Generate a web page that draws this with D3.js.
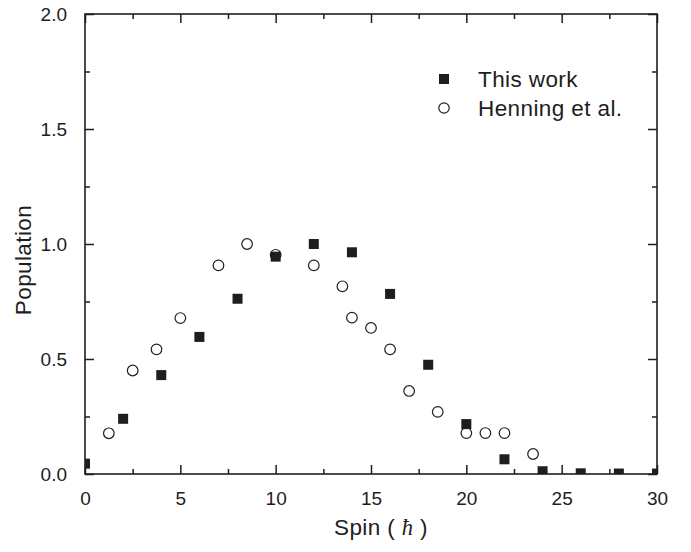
<!DOCTYPE html>
<html>
<head>
<meta charset="utf-8">
<script src="https://cdn.jsdelivr.net/npm/d3@7"></script>
<style>
  body { margin: 0; background: #fff; }
  svg text { font-family: "Liberation Sans", Arial, sans-serif; fill: #1e1e1e; }
</style>
</head>
<body>
<div id="chart"></div>
<script>
// data
const thisWorkSpin = [0, 2, 4, 6, 8, 10, 12, 14, 16, 18, 20, 22, 24, 26, 28, 30];
const thisWorkPop  = [0.045, 0.24, 0.43, 0.596, 0.762, 0.945, 1.0, 0.964, 0.783, 0.475, 0.217, 0.064, 0.012, 0.003, 0.002, 0.002];

const henningSpin = [1.25, 2.5, 3.75, 5, 7, 8.5, 10, 12, 13.5, 14, 15, 16, 17, 18.5, 20, 21, 22, 23.5];
const henningPop  = [0.177, 0.45, 0.542, 0.678, 0.907, 1.0, 0.953, 0.907, 0.816, 0.68, 0.635, 0.542, 0.361, 0.27, 0.178, 0.178, 0.178, 0.087];

const xMajor = [0, 5, 10, 15, 20, 25, 30];
const xMinor = [2.5, 7.5, 12.5, 17.5, 22.5, 27.5];
const yMajor = [0, 0.5, 1.0, 1.5, 2.0];
const yMinor = [0.25, 0.75, 1.25, 1.75];

const legendItems = [
  { label: 'This work', kind: 'square' },
  { label: 'Henning et al.', kind: 'circle' }
];

const W = 691, H = 552;
const margin = { top: 14, right: 34, bottom: 78, left: 85 };
const ink = '#1e1e1e';

const svg = d3.select('#chart').append('svg')
  .attr('width', W).attr('height', H);

const x = d3.scaleLinear().domain([0, 30]).range([margin.left, W - margin.right]);
const y = d3.scaleLinear().domain([0, 2]).range([H - margin.bottom, margin.top]);

svg.append('clipPath').attr('id', 'plot-clip')
  .append('rect')
  .attr('x', x(0)).attr('y', y(2))
  .attr('width', x(30) - x(0)).attr('height', y(0) - y(2));

// ── axes: ticks point inward on all four sides ──────────────
function drawAxis(axisFn, pos, majors, minors, fmt, withLabels) {
  const g = svg.append('g').attr('transform', pos);
  g.call(axisFn.tickValues(majors).tickSizeInner(-9).tickSizeOuter(0)
    .tickPadding(withLabels ? 18 : 0).tickFormat(withLabels ? fmt : ''));
  g.append('g').call(axisFn.tickValues(minors).tickSizeInner(-5).tickFormat(''));
  g.selectAll('.domain').remove();
  g.selectAll('line').attr('stroke', ink).attr('stroke-width', 1.5);
  g.selectAll('text').attr('font-size', 19).attr('fill', ink)
    .attr('font-family', '"Liberation Sans", Arial, sans-serif');
  return g;
}

const fmtY = d3.format('.1f');
drawAxis(d3.axisBottom(x), `translate(0,${y(0)})`, xMajor, xMinor, d3.format('d'), true);
drawAxis(d3.axisTop(x), `translate(0,${y(2)})`, xMajor, xMinor, null, false);
drawAxis(d3.axisLeft(y), `translate(${x(0)},0)`, yMajor, yMinor, fmtY, true);
drawAxis(d3.axisRight(y), `translate(${x(30)},0)`, yMajor, yMinor, null, false);

svg.append('rect')
  .attr('x', x(0)).attr('y', y(2))
  .attr('width', x(30) - x(0)).attr('height', y(0) - y(2))
  .attr('fill', 'none').attr('stroke', ink).attr('stroke-width', 1.6);

// ── markers ────────────────────────────────────────────────
const plot = svg.append('g').attr('clip-path', 'url(#plot-clip)');
const sq = 10;

plot.selectAll('rect.tw').data(thisWorkSpin)
  .join('rect')
  .attr('class', 'tw')
  .attr('x', (d) => x(d) - sq / 2)
  .attr('y', (d, i) => y(thisWorkPop[i]) - sq / 2)
  .attr('width', sq).attr('height', sq)
  .attr('fill', ink);

plot.selectAll('circle.hn').data(henningSpin)
  .join('circle')
  .attr('class', 'hn')
  .attr('cx', (d) => x(d))
  .attr('cy', (d, i) => y(henningPop[i]))
  .attr('r', 5.3)
  .attr('fill', 'none')
  .attr('stroke', ink).attr('stroke-width', 1.2);

// ── axis titles ────────────────────────────────────────────
const xt = svg.append('text')
  .attr('x', 381).attr('y', 535)
  .attr('text-anchor', 'middle')
  .attr('font-size', 22.5)
  .attr('letter-spacing', 0.4);
xt.append('tspan').text('Spin ( ');
xt.append('tspan').text('ħ')
  .attr('font-family', '"Liberation Serif", "DejaVu Serif", serif')
  .attr('font-style', 'italic');
xt.append('tspan').text(' )');

svg.append('text')
  .attr('transform', 'translate(31,260) rotate(-90)')
  .attr('text-anchor', 'middle')
  .attr('font-size', 22.5)
  .attr('letter-spacing', 0.4)
  .text('Population');

// ── legend ─────────────────────────────────────────────────
const legend = svg.append('g').attr('transform', 'translate(444,79)');
const rowH = 29;
legendItems.forEach((item, i) => {
  const row = legend.append('g').attr('transform', `translate(0,${i * rowH})`);
  if (item.kind === 'square') {
    row.append('rect').attr('x', -5).attr('y', -5).attr('width', 10).attr('height', 10).attr('fill', ink);
  } else {
    row.append('circle').attr('r', 5.2).attr('fill', 'none').attr('stroke', ink).attr('stroke-width', 1.2);
  }
  row.append('text').attr('x', 34).attr('y', 7.5).attr('font-size', 22.5)
    .attr('letter-spacing', 0.4).text(item.label);
});
</script>
</body>
</html>
